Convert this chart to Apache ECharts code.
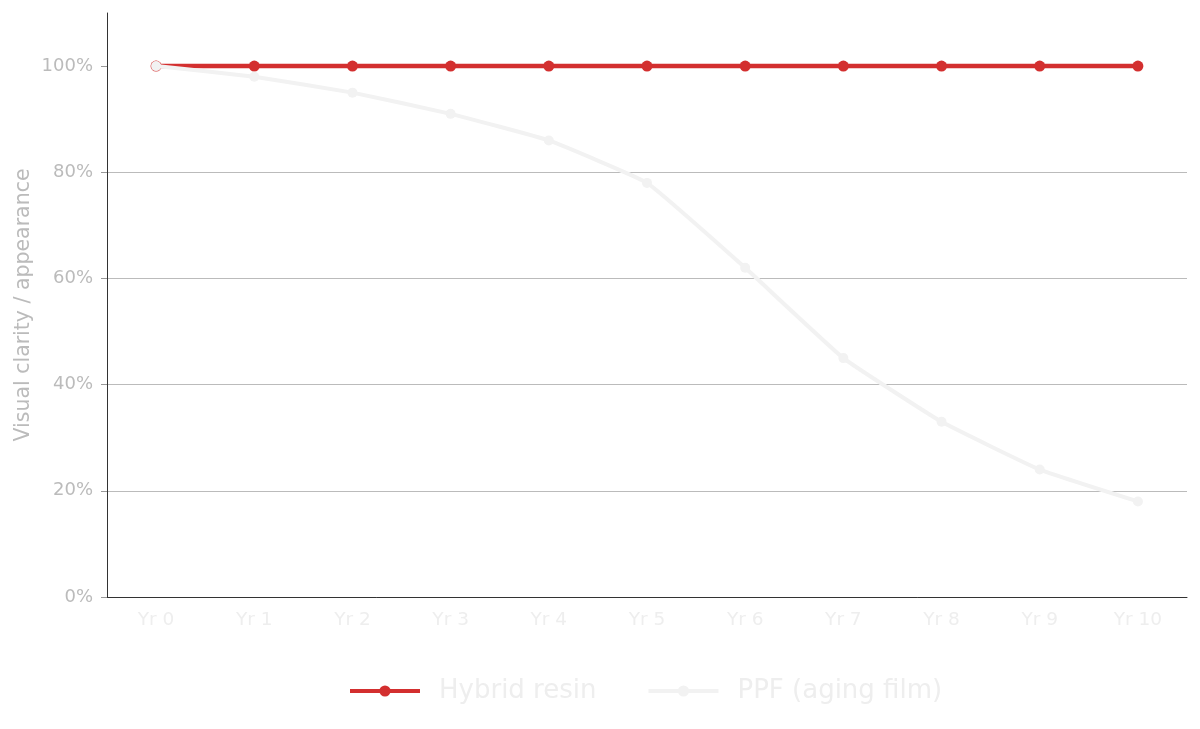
<!DOCTYPE html>
<html>
<head>
<meta charset="utf-8">
<script src="https://cdn.jsdelivr.net/npm/echarts@6/dist/echarts.min.js"></script>
<style>html,body{margin:0;padding:0;background:#fff}#c{width:1200px;height:729px}</style>
</head>
<body>
<div id="c"></div>
<script>
const categories = ['Yr 0','Yr 1','Yr 2','Yr 3','Yr 4','Yr 5','Yr 6','Yr 7','Yr 8','Yr 9','Yr 10'];
const hybridResin = [100,100,100,100,100,100,100,100,100,100,100];
const ppfAging = [100,98,95,91,86,78,62,45,33,24,18];
const yTicks = [0,20,40,60,80,100];
const seriesNames = ['Hybrid resin','PPF (aging film)'];

const chart = echarts.init(document.getElementById('c'));
const font = 'DejaVu Sans';
chart.setOption({
  animation: false,
  backgroundColor: '#fff',
  grid: {left: 107, right: 13, top: 13, bottom: 132},
  legend: {
    bottom: 20,
    left: 343,
    itemWidth: 70,
    itemHeight: 14,
    itemGap: 50,
    lineStyle: {width: 4},
    textStyle: {fontFamily: font, fontSize: 26, color: '#eeeeee', padding: [0,0,0,14]},
    data: seriesNames
  },
  xAxis: {
    type: 'category',
    data: categories,
    boundaryGap: true,
    axisLine: {lineStyle: {color: '#333', width: 1}},
    axisTick: {alignWithLabel: true, length: 6, lineStyle: {color: '#333'}},
    axisLabel: {fontFamily: font, fontSize: 18.5, color: '#eeeeee', margin: 14}
  },
  yAxis: {
    type: 'value',
    min: 0, max: 110, interval: 20,
    name: 'Visual clarity / appearance',
    nameLocation: 'middle',
    nameGap: 73,
    nameMoveOverlap: false,
    nameTextStyle: {fontFamily: font, fontSize: 20.5, color: '#bbbbbb'},
    axisLine: {show: true, lineStyle: {color: '#333', width: 1}},
    axisTick: {show: true, length: 6, lineStyle: {color: '#999'}, customValues: yTicks},
    axisLabel: {fontFamily: font, fontSize: 18, color: '#bbbbbb', margin: 14, formatter: '{value}%', customValues: yTicks},
    splitLine: {show: true, showMaxLine: false, lineStyle: {color: '#bbbbbb', width: 1}}
  },
  series: [
    {
      name: seriesNames[0],
      type: 'line',
      data: hybridResin,
      smooth: 0.1,
      symbol: 'circle',
      symbolSize: 11,
      itemStyle: {color: '#d32f2f'},
      lineStyle: {color: '#d32f2f', width: 4.5},
      z: 2
    },
    {
      name: seriesNames[1],
      type: 'line',
      data: ppfAging,
      smooth: 0.1,
      symbol: 'circle',
      symbolSize: 10,
      itemStyle: {color: '#f2f2f2'},
      lineStyle: {color: '#f2f2f2', width: 4},
      z: 3
    }
  ]
});
</script>
</body>
</html>
